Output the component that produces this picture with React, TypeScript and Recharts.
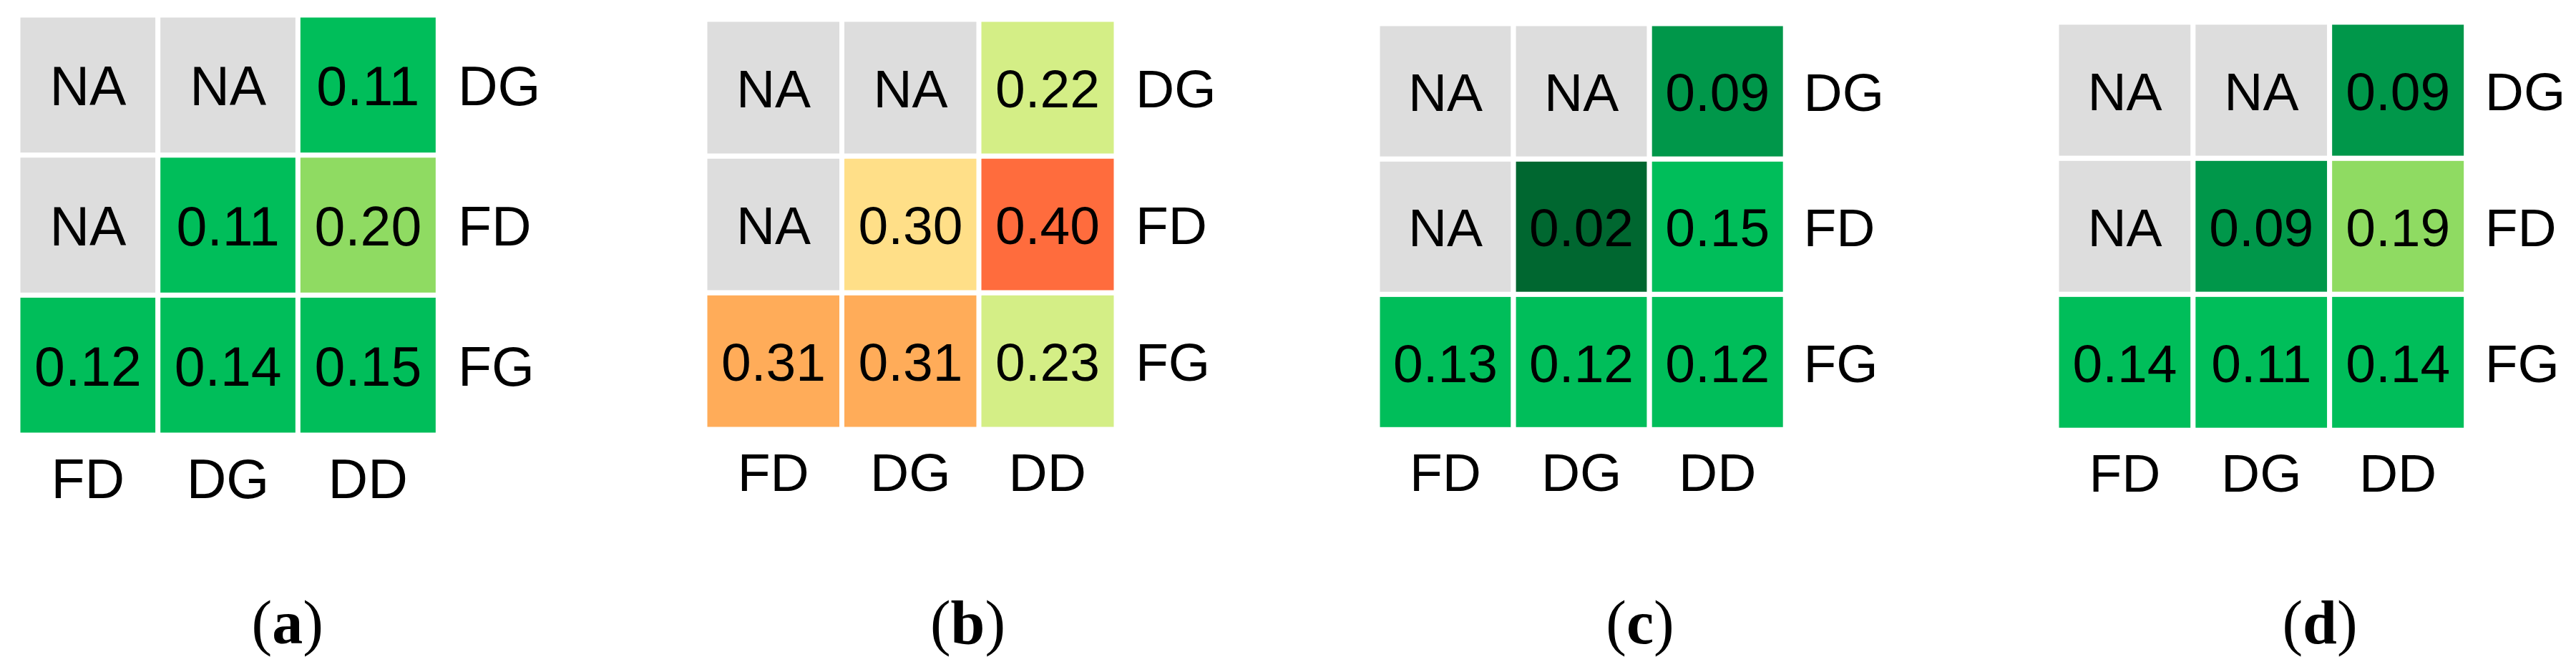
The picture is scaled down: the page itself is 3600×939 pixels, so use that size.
import React from 'react';
import { BarChart, Bar, XAxis, YAxis } from 'recharts';

// Column categories (x axis, bottom) and row categories (right axis, top to bottom)
const columns = ['FD', 'DG', 'DD'];
const rows = ['DG', 'FD', 'FG'];

// Cell values per panel: rows top-to-bottom (DG, FD, FG), columns (FD, DG, DD); null = NA
const valuesA: (number | null)[][] = [
  [null, null, 0.11],
  [null, 0.11, 0.2],
  [0.12, 0.14, 0.15],
];
const valuesB: (number | null)[][] = [
  [null, null, 0.22],
  [null, 0.3, 0.4],
  [0.31, 0.31, 0.23],
];
const valuesC: (number | null)[][] = [
  [null, null, 0.09],
  [null, 0.02, 0.15],
  [0.13, 0.12, 0.12],
];
const valuesD: (number | null)[][] = [
  [null, null, 0.09],
  [null, 0.09, 0.19],
  [0.14, 0.11, 0.14],
];
const captions = ['a', 'b', 'c', 'd'];
const rowTicks = [0.5, 1.5, 2.5];

function colorFor(v: number | null): string {
  if (v === null) return '#DDDDDD';
  if (v < 0.05) return '#006730';
  if (v < 0.1) return '#00974A';
  if (v < 0.165) return '#00BE5A';
  if (v < 0.21) return '#8FDB62';
  if (v < 0.26) return '#D4EE86';
  if (v < 0.305) return '#FFDF88';
  if (v < 0.35) return '#FFAC59';
  return '#FF6C3D';
}

const SANS = '"Liberation Sans", Arial, sans-serif';
const SERIF = '"Liberation Serif", "Times New Roman", serif';

type Geom = { gl: number; gt: number; gw: number; gh: number; fs: number; gap: number; capX: number };

const geoms: Geom[] = [
  { gl: 28.3, gt: 24.3, gw: 580, gh: 580, fs: 77, gap: 37.4, capX: 401.7 },
  { gl: 988, gt: 30, gw: 567.5, gh: 566, fs: 75, gap: 37, capX: 1352.5 },
  { gl: 1928, gt: 36, gw: 563.3, gh: 560.3, fs: 75, gap: 34.7, capX: 2292 },
  { gl: 2877.7, gt: 34.8, gw: 565.5, gh: 563.2, fs: 75, gap: 35.8, capX: 3242 },
];

const STROKE = 7;

function Panel({ values, geom }: { values: (number | null)[][]; geom: Geom }) {
  const { gl, gt, gw, gh, fs, gap } = geom;
  const half = STROKE / 2;
  const plotW = gw + STROKE;
  const plotH = gh + STROKE;
  const axisW = 220;
  const axisH = 120;
  const data = columns.map((col) => ({ col, FG: 1, FD: 1, DG: 1 }));
  const stackRows = [...rows].reverse(); // bottom to top

  return (
    <div style={{ position: 'absolute', left: gl - half, top: gt - half }}>
      <BarChart
        width={plotW + axisW}
        height={plotH + axisH}
        data={data}
        margin={{ top: 0, right: 0, bottom: 0, left: 0 }}
        barCategoryGap={0}
        barGap={0}
      >
        <XAxis
          dataKey="col"
          type="category"
          axisLine={false}
          tickLine={false}
          tickSize={0}
          tickMargin={0}
          height={axisH}
          interval={0}
          tick={(p: any) => (
            <text
              x={p.x}
              y={p.y - half + 36 + 0.716 * fs}
              textAnchor="middle"
              fontFamily={SANS}
              fontSize={fs}
              fill="#000"
            >
              {p.payload.value}
            </text>
          )}
        />
        <YAxis
          orientation="right"
          type="number"
          domain={[0, 3]}
          ticks={rowTicks}
          width={axisW}
          axisLine={false}
          tickLine={false}
          tickSize={0}
          tickMargin={0}
          tick={(p: any) => (
            <text
              x={p.x + gap - half - 6}
              y={p.y + 0.358 * fs + 1}
              textAnchor="start"
              fontFamily={SANS}
              fontSize={fs}
              fill="#000"
            >
              {rows[2 - Math.floor(p.payload.value)]}
            </text>
          )}
        />
        {stackRows.map((r) => {
          const ri = rows.indexOf(r);
          return (
            <Bar
              key={r}
              dataKey={r}
              stackId="cells"
              isAnimationActive={false}
              shape={(props: any) => {
                const { x, y, width, height, payload } = props;
                const ci = columns.indexOf(payload.col);
                const v = values[ri][ci];
                return (
                  <g>
                    <rect
                      x={x}
                      y={y}
                      width={width}
                      height={height}
                      fill={colorFor(v)}
                      stroke="#FFFFFF"
                      strokeWidth={STROKE}
                    />
                    <text
                      x={x + width / 2}
                      y={y + height / 2 + 0.358 * fs + 1}
                      textAnchor="middle"
                      fontFamily={SANS}
                      fontSize={fs}
                      fill="#000"
                    >
                      {v === null ? 'NA' : v.toFixed(2)}
                    </text>
                  </g>
                );
              }}
            />
          );
        })}
      </BarChart>
    </div>
  );
}

export default function App() {
  const panels = [valuesA, valuesB, valuesC, valuesD];
  return (
    <div
      style={{
        position: 'absolute',
        left: 0,
        top: 0,
        width: 3600,
        height: 939,
        background: '#FFFFFF',
        overflow: 'hidden',
      }}
    >
      <svg width={3600} height={939} style={{ position: 'absolute', left: 0, top: 0 }}>
        {geoms.map((g, i) => (
          <text key={i} x={g.capX} y={899} textAnchor="middle" fontFamily={SERIF} fontSize={86} fill="#000">
            <tspan>(</tspan>
            <tspan fontWeight="bold">{captions[i]}</tspan>
            <tspan>)</tspan>
          </text>
        ))}
      </svg>
      {panels.map((vals, i) => (
        <Panel key={i} values={vals} geom={geoms[i]} />
      ))}
    </div>
  );
}
